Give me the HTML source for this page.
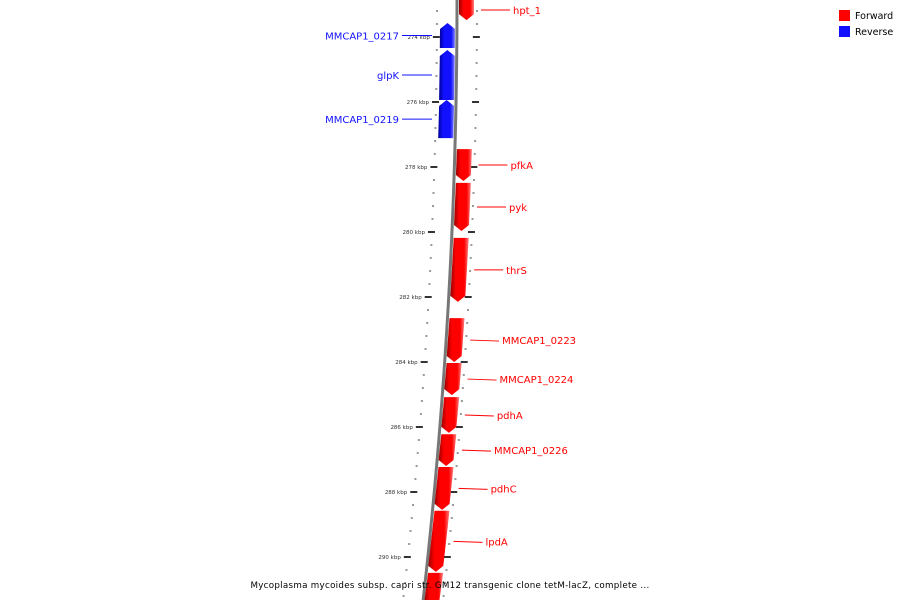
<!DOCTYPE html>
<html><head><meta charset="utf-8"><style>
body{margin:0;background:#fff}
svg{display:block;font-family:"DejaVu Sans","Liberation Sans",sans-serif}
</style></head><body>
<svg id="chart" width="900" height="600">
<defs>
<linearGradient id="gf" x1="0" x2="1" y1="0" y2="0"><stop offset="0" stop-color="#900"/><stop offset="0.3" stop-color="#f00"/><stop offset="0.75" stop-color="#f00"/><stop offset="1" stop-color="#ff8080"/></linearGradient>
<linearGradient id="gr" x1="0" x2="1" y1="0" y2="0"><stop offset="0" stop-color="#009"/><stop offset="0.3" stop-color="#11f"/><stop offset="0.75" stop-color="#11f"/><stop offset="1" stop-color="#8080ff"/></linearGradient>
</defs>
<g id="ticks"></g>
<path id="backbone" fill="none" stroke="#777" stroke-width="3"/>
<g id="genes"></g>
<g id="labels"></g>
<g>
<rect x="839" y="10" width="11" height="11" fill="#f00"/>
<text x="855" y="19" font-size="9.5" fill="#000">Forward</text>
<rect x="839" y="26" width="11" height="11" fill="#11f"/>
<text x="855" y="35" font-size="9.5" fill="#000">Reverse</text>
</g>
<text x="450" y="588" text-anchor="middle" font-size="8.7" letter-spacing="0.3" fill="#000">Mycoplasma mycoides subsp. capri str. GM12 transgenic clone tetM-lacZ, complete ...</text>
</svg>
<script>
// gene data (kbp)
const geneNames = ["hpt_1","MMCAP1_0217","glpK","MMCAP1_0219","pfkA","pyk","thrS","MMCAP1_0223","MMCAP1_0224","pdhA","MMCAP1_0226","pdhC","lpdA","next"];
const geneStart = [272.86,273.57,274.40,275.94,277.45,278.49,280.18,282.65,284.03,285.08,286.22,287.23,288.58,290.49];
const geneEnd =   [273.48,274.34,275.94,277.11,278.43,279.97,282.15,284.00,285.02,286.18,287.20,288.55,290.46,291.60];
const geneStrand = [1,-1,-1,-1,1,1,1,1,1,1,1,1,1,1];
const majorTicks = [274,276,278,280,282,284,286,288,290];
const NS="http://www.w3.org/2000/svg";
const yOf = k => 37 + (k-274)*32.5;
const xOf = y => 457 - 9.4e-5*y*y;
function mk(tag, attrs, parent){const e=document.createElementNS(NS,tag);for(const a in attrs)e.setAttribute(a,attrs[a]);parent.appendChild(e);return e;}
let d="";for(let y=-5;y<=605;y+=5)d+=(y===-5?"M":"L")+xOf(y).toFixed(2)+" "+y;
document.getElementById("backbone").setAttribute("d",d);
const tg=document.getElementById("ticks");
for(let i=0;i<=50;i++){const k=271.2+i*0.4;const y=yOf(k);if(y<-5||y>605)continue;
 const isMajor=Math.abs(k/2-Math.round(k/2))<1e-6;
 const x=xOf(y);
 [-20,20].forEach(off=>{const r=mk("rect",isMajor?{x:x+off-4,y:y-1,width:7,height:2,fill:"#333"}:{x:x+off-1,y:y-1,width:2,height:2,fill:"#999"},tg);
 
 });
}
majorTicks.forEach(k=>{const y=yOf(k);const t=mk("text",{x:xOf(y)-27,y:y+2,"font-size":"5.5","text-anchor":"end",fill:"#333"},tg);t.textContent=k+" kbp";
 
 });
const gg=document.getElementById("genes"), lg=document.getElementById("labels");
geneNames.forEach((n,i)=>{
 const y1=yOf(geneStart[i]), y2=yOf(geneEnd[i]), s=geneStrand[i];
 const x1=xOf(y1), x2=xOf(y2);
 const a0=s>0?2:-17, a1=s>0?17:-2;
 let pts;
 if(s>0){pts=[[x1+a0,y1],[x1+a1,y1],[x2+a1,y2-6],[x2+(a0+a1)/2,y2],[x2+a0,y2-6]];}
 else{pts=[[x1+(a0+a1)/2,y1],[x1+a1,y1+6],[x2+a1,y2],[x2+a0,y2],[x1+a0,y1+6]];}
 const p=mk("polygon",{points:pts.map(q=>q[0].toFixed(1)+","+q[1].toFixed(1)).join(" "),fill:s>0?"url(#gf)":"url(#gr)"},gg);
 
 
 if(n==="next")return;
 const yc=(y1+y2)/2, xc=xOf(yc);
 const col=s>0?"#f00":"#11f";
 if(s>0){
  const lx=xc+56;
  const l=mk("line",{x1:xc+24,y1:yc,x2:lx-3,y2:yc+(i>6?1:0),stroke:col,"stroke-width":"1"},lg);
  
  
  const t=mk("text",{x:lx,y:yc+4,"font-size":"10",fill:col},lg);t.textContent=n;
  
  
 } else {
  const l=mk("line",{x1:402,y1:yc,x2:432,y2:yc,stroke:col,"stroke-width":"1"},lg);
  
  
  const t=mk("text",{x:399,y:yc+4,"font-size":"10",fill:col,"text-anchor":"end"},lg);t.textContent=n;
  
  
 }
});
</script>
</body></html>
